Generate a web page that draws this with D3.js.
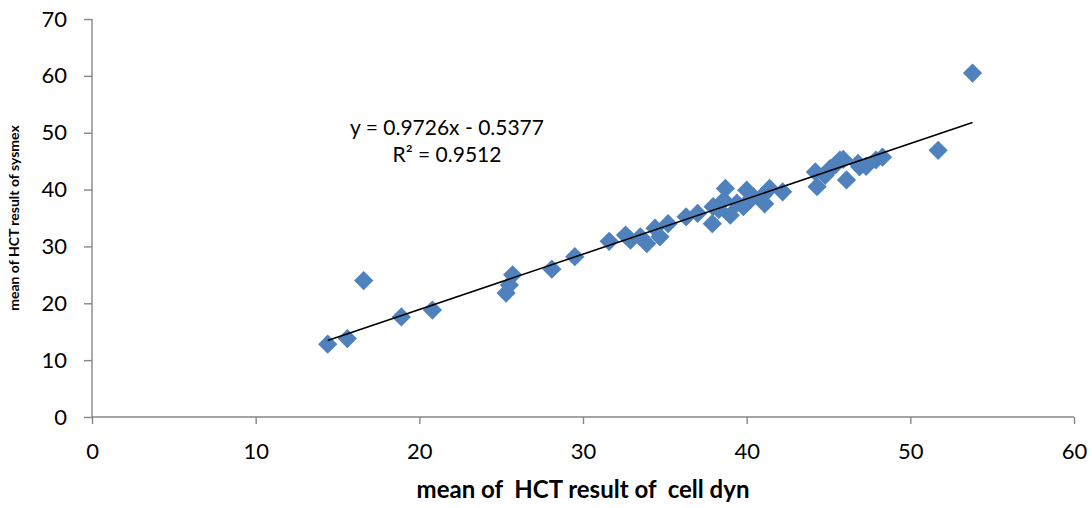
<!DOCTYPE html>
<html><head><meta charset="utf-8">
<script src="https://cdn.jsdelivr.net/npm/d3@7"></script>
<style>body{margin:0;background:#fff}text{font-family:Lato,"Open Sans",sans-serif}</style>
</head><body><svg id="c" width="1092" height="508"></svg>
<script>
const cellDyn = [14.4,15.6,16.6,18.9,20.8,25.3,25.5,25.7,28.1,29.5,31.6,32.6,32.9,33.5,33.9,34.4,34.7,35.2,36.3,37.0,37.9,37.95,38.7,38.6,39.0,39.4,40.0,39.8,40.4,41.1,41.4,42.2,44.2,44.3,45.1,46.1,45.7,45.9,46.9,46.8,47.3,47.9,48.3,51.7,53.8,38.3,40.2,41.0,44.8,45.4];
const sysmex = [12.8,13.8,24.0,17.6,18.8,21.8,23.2,25.0,26.0,28.2,30.9,32.0,31.1,31.7,30.5,33.2,31.7,34.0,35.2,35.8,34.0,37.0,40.2,38.1,35.5,37.6,39.9,37.0,38.7,37.5,40.2,39.6,43.1,40.5,43.7,41.7,45.2,45.3,44.0,44.6,44.1,45.2,45.7,46.9,60.5,36.5,38.2,39.0,42.5,44.3];
const xTicks = [0,10,20,30,40,50,60];
const yTicks = [0,10,20,30,40,50,60,70];
const slope = 0.9726, intercept = -0.5377;
const eqLabel = "y = 0.9726x - 0.5377";
const r2Label = "R² = 0.9512";
const xTitle = "mean of  HCT result of  cell dyn";
const yTitle = "mean of HCT result of sysmex";

const svg = d3.select("#c");
const x = d3.scaleLinear().domain([0,60]).range([92,1074]);
const y = d3.scaleLinear().domain([0,70]).range([417,19]);
const axisColor = "#868686";

const gx = svg.append("g").attr("transform","translate(0,417)")
  .call(d3.axisBottom(x).tickValues(xTicks).tickSize(7).tickPadding(19));
const gy = svg.append("g").attr("transform","translate(92,0)")
  .call(d3.axisLeft(y).tickValues(yTicks).tickSize(8).tickPadding(17));
[gx,gy].forEach(g=>{
  g.select(".domain").attr("stroke",axisColor).attr("stroke-width",1.4);
  g.selectAll(".tick line").attr("stroke",axisColor).attr("stroke-width",1.4);
  g.selectAll(".tick text").attr("fill","#000").style("font-size","22px").style("font-family","Lato,'Open Sans',sans-serif");
});
gy.select(".domain").attr("d","M0,19V417");
gx.select(".domain").attr("d","M92,0H1074");

const pts = cellDyn.map((d,i)=>[d,sysmex[i]]);
const sym = d3.symbol().type(d3.symbolSquare).size(185);
svg.append("g").selectAll("path").data(pts).join("path")
  .attr("d",sym)
  .attr("transform",d=>`translate(${x(d[0])},${y(d[1])}) rotate(45)`)
  .attr("fill","#4F81BD");

const xMin = d3.min(cellDyn), xMax = d3.max(cellDyn);
svg.append("line")
  .attr("x1",x(xMin)).attr("y1",y(slope*xMin+intercept))
  .attr("x2",x(xMax)).attr("y2",y(slope*xMax+intercept))
  .attr("stroke","#000").attr("stroke-width",1.6);

svg.append("text").attr("x",447).attr("y",135).attr("text-anchor","middle").style("font-size","21px").text(eqLabel);
svg.append("text").attr("x",447).attr("y",162).attr("text-anchor","middle").style("font-size","21px").text(r2Label);

svg.append("text").attr("x",583).attr("y",498).attr("text-anchor","middle").style("font-size","24px").style("font-weight","bold").style("white-space","pre").text(xTitle);
svg.append("text").attr("transform","translate(19,218) rotate(-90)").attr("text-anchor","middle").style("font-size","14px").style("font-weight","bold").text(yTitle);
</script></body></html>
